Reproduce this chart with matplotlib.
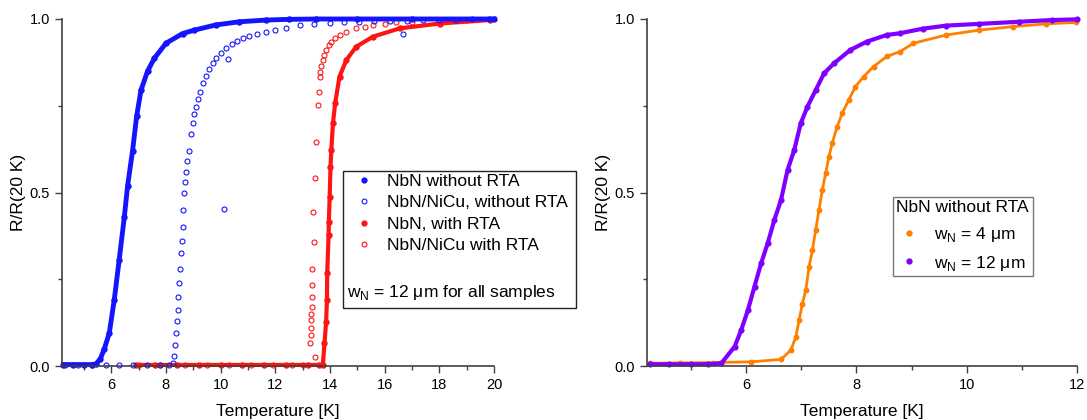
import numpy as np
import matplotlib
matplotlib.use('Agg')
import matplotlib.pyplot as plt
from matplotlib.ticker import MultipleLocator
from matplotlib.lines import Line2D
from matplotlib.patches import Rectangle

plt.rcParams['font.family'] = ['Liberation Sans', 'DejaVu Sans']

# left panel (T in K, R/R(20K))
nbn_T = [4.25, 4.6, 5.0, 5.3, 5.44, 5.6, 5.75, 5.93, 6.11, 6.29, 6.48, 6.60, 6.78, 6.93,
         7.09, 7.33, 7.58, 8.0, 8.61, 9.04, 9.83, 10.69, 11.67, 12.5, 13.5, 15.0, 17.0, 20.0]
nbn_R = [0.004, 0.004, 0.004, 0.004, 0.006, 0.02, 0.05, 0.095, 0.19, 0.305, 0.43, 0.52, 0.62, 0.72,
         0.795, 0.85, 0.887, 0.93, 0.958, 0.968, 0.983, 0.992, 0.997, 0.999, 1.0, 1.0, 1.0, 1.0]

nicu_T = [4.3, 4.8, 5.3, 5.8, 6.3, 6.8, 7.3, 7.8, 8.1, 8.25, 8.30, 8.34, 8.37, 8.40, 8.43, 8.46,
          8.49, 8.52, 8.55, 8.58, 8.61, 8.64, 8.67, 8.70, 8.74, 8.79, 8.84, 8.92, 8.98, 9.04, 9.10,
          9.17, 9.25, 9.34, 9.45, 9.58, 9.71, 9.85, 10.0, 10.2, 10.4, 10.6, 10.81, 11.05, 11.35,
          11.67, 12.0, 12.4, 12.89, 13.4, 14.0, 14.5, 15.08, 15.6, 16.2, 16.8, 17.4, 18.0, 18.6,
          19.2, 19.8, 10.14, 10.26, 16.67]
nicu_R = [0.003, 0.003, 0.003, 0.003, 0.003, 0.003, 0.003, 0.003, 0.003, 0.008, 0.03, 0.06, 0.095,
          0.13, 0.16, 0.20, 0.24, 0.28, 0.325, 0.36, 0.40, 0.45, 0.50, 0.53, 0.56, 0.59, 0.62, 0.67,
          0.70, 0.725, 0.747, 0.77, 0.79, 0.815, 0.835, 0.855, 0.872, 0.888, 0.902, 0.916, 0.927,
          0.936, 0.944, 0.951, 0.958, 0.963, 0.968, 0.975, 0.983, 0.986, 0.988, 0.99, 0.992, 0.993,
          0.994, 0.995, 0.996, 0.997, 0.998, 0.999, 0.999, 0.452, 0.885, 0.956]

rta_T = [6.9, 7.6, 8.4, 9.2, 10.0, 10.8, 11.6, 12.4, 13.2, 13.6, 13.74, 13.80, 13.86, 13.89, 13.90,
         13.95, 13.96, 13.99, 14.02, 14.05, 14.11, 14.19, 14.35, 14.60, 14.96, 15.57, 16.55, 18.01,
         19.85]
rta_R = [0.003, 0.003, 0.003, 0.003, 0.003, 0.003, 0.003, 0.003, 0.003, 0.003, 0.003, 0.065, 0.128,
         0.19, 0.267, 0.377, 0.416, 0.488, 0.574, 0.622, 0.70, 0.757, 0.834, 0.882, 0.92, 0.949,
         0.973, 0.987, 0.997]

nicu_rta_T = [7.0, 7.8, 8.7, 9.5, 10.3, 11.1, 11.9, 12.6, 13.0, 13.44, 13.28, 13.29, 13.30, 13.31,
              13.32, 13.33, 13.34, 13.35, 13.35, 13.40, 13.37, 13.45, 13.50, 13.55, 13.60, 13.62,
              13.64, 13.68, 13.74, 13.80, 13.86, 13.95, 14.05, 14.2, 14.35, 14.6, 14.96, 15.3,
              15.57, 16.0, 16.42, 17.0, 18.0, 19.0, 19.85]
nicu_rta_R = [0.003, 0.003, 0.003, 0.003, 0.003, 0.003, 0.003, 0.003, 0.003, 0.027, 0.065, 0.09,
              0.11, 0.133, 0.15, 0.17, 0.20, 0.233, 0.28, 0.358, 0.445, 0.541, 0.645, 0.753, 0.79,
              0.834, 0.848, 0.865, 0.882, 0.897, 0.911, 0.924, 0.935, 0.945, 0.954, 0.963, 0.973,
              0.978, 0.983, 0.987, 0.99, 0.992, 0.995, 0.997, 0.999]

# right panel
w12_T = [4.25, 4.6, 5.0, 5.3, 5.55, 5.79, 5.91, 6.03, 6.15, 6.27, 6.39, 6.51, 6.63, 6.75, 6.87,
         6.99, 7.11, 7.26, 7.41, 7.59, 7.89, 8.19, 8.55, 8.79, 9.2, 9.63, 10.23, 10.95, 11.55, 12.0]
w12_R = [0.005, 0.005, 0.005, 0.005, 0.008, 0.056, 0.104, 0.161, 0.229, 0.296, 0.354, 0.421, 0.478,
         0.565, 0.622, 0.70, 0.747, 0.795, 0.843, 0.872, 0.911, 0.935, 0.954, 0.959, 0.972, 0.981,
         0.986, 0.992, 0.997, 0.999]

w4_T = [4.25, 4.8, 5.4, 6.09, 6.63, 6.81, 6.90, 6.96, 7.02, 7.08, 7.14, 7.20, 7.26, 7.32, 7.38,
        7.44, 7.50, 7.56, 7.65, 7.74, 7.86, 7.98, 8.13, 8.31, 8.55, 8.79, 9.03, 9.63, 10.23, 10.83,
        11.44, 11.98]
w4_R = [0.008, 0.009, 0.010, 0.012, 0.019, 0.046, 0.084, 0.133, 0.18, 0.219, 0.286, 0.334, 0.392,
        0.45, 0.507, 0.555, 0.603, 0.642, 0.69, 0.728, 0.767, 0.805, 0.834, 0.863, 0.892, 0.906,
        0.93, 0.954, 0.968, 0.978, 0.986, 0.99]

blue = '#1414ff'
red = '#ff1414'
orange = '#ff8000'
purple = '#8000ff'
axcol = '#404040'

fig = plt.figure(figsize=(10.87, 4.2), dpi=100)
ax1 = fig.add_axes([62 / 1087, 54 / 420, 432 / 1087, 347 / 420])
ax2 = fig.add_axes([647 / 1087, 54 / 420, 430 / 1087, 347 / 420])


def style(ax, xlim, major):
    ax.set_xlim(*xlim)
    ax.set_ylim(0, 1)
    for s in ['top', 'right']:
        ax.spines[s].set_visible(False)
    for s in ['left', 'bottom']:
        ax.spines[s].set_color(axcol)
        ax.spines[s].set_linewidth(1.2)
    ax.xaxis.set_major_locator(MultipleLocator(major))
    ax.xaxis.set_minor_locator(MultipleLocator(major / 2))
    ax.yaxis.set_major_locator(MultipleLocator(0.5))
    ax.yaxis.set_minor_locator(MultipleLocator(0.25))
    ax.yaxis.set_major_formatter(matplotlib.ticker.FormatStrFormatter('%.1f'))
    ax.tick_params(which='major', length=5, width=1, color=axcol, labelsize=10.5, direction='out')
    ax.tick_params(which='minor', length=3, width=1, color=axcol, direction='out')
    ax.set_xlabel('Temperature [K]', fontsize=12.5, labelpad=9)
    ax.set_ylabel('R/R(20 K)', fontsize=12.5, labelpad=3)


style(ax1, (4.2, 20), 2)
style(ax2, (4.2, 12), 2)
ax2.xaxis.set_minor_locator(MultipleLocator(1))

ms = 3.6
ax1.plot(nicu_rta_T, nicu_rta_R, 'o', ls='none', mfc='none', mec=red, ms=ms, mew=0.8, clip_on=False)
ax1.plot(rta_T, rta_R, 'o-', color=red, lw=3, ms=ms, clip_on=False)
ax1.plot(nicu_T, nicu_R, 'o', ls='none', mfc='none', mec=blue, ms=ms, mew=0.8, clip_on=False)
ax1.plot(nbn_T, nbn_R, 'o-', color=blue, lw=3.5, ms=ms, clip_on=False)

fs = 12.5
h = [Line2D([], [], marker='o', ls='none', color=blue, ms=3.5),
     Line2D([], [], marker='o', ls='none', mfc='none', mec=blue, ms=3.5, mew=0.8),
     Line2D([], [], marker='o', ls='none', color=red, ms=3.5),
     Line2D([], [], marker='o', ls='none', mfc='none', mec=red, ms=3.5, mew=0.8)]
labels = ['NbN without RTA', 'NbN/NiCu, without RTA', 'NbN, with RTA', 'NbN/NiCu with RTA']
fig.legend(h, labels, loc='upper left', bbox_to_anchor=(348 / 1087, 1 - 167 / 420), frameon=False,
           fontsize=fs, handlelength=1.0, handletextpad=0.85, labelspacing=0.36, borderaxespad=0)
fig.patches.append(Rectangle((343 / 1087, 1 - 308 / 420), 233 / 1087, 137 / 420,
                             transform=fig.transFigure, fill=False, ec='#222222', lw=1))
fig.text(347 / 1087, 1 - 293 / 420, r'w$_\mathregular{N}$ = 12 $\mathregular{\mu}$m for all samples',
         fontsize=fs, va='center', ha='left')

ax2.plot(w4_T, w4_R, 'o-', color=orange, lw=2, ms=3.2, clip_on=False)
ax2.plot(w12_T, w12_R, 'o-', color=purple, lw=3, ms=3.4, clip_on=False)

h2 = [Line2D([], [], marker='o', ls='none', color=orange, ms=3.5),
      Line2D([], [], marker='o', ls='none', color=purple, ms=3.5)]
leg = ax2.legend(h2, [r'w$_\mathregular{N}$ = 4 $\mathregular{\mu}$m', r'w$_\mathregular{N}$ = 12 $\mathregular{\mu}$m'],
                 title='NbN without RTA', loc='upper left', bbox_to_anchor=(246 / 430, 169 / 347),
                 fontsize=fs, title_fontsize=fs, frameon=True, fancybox=False, edgecolor='#555555',
                 handlelength=1.0, handletextpad=0.9, labelspacing=0.55, borderpad=0.2, borderaxespad=0)
leg.get_frame().set_linewidth(1)

fig.savefig('out.png', dpi=100)
